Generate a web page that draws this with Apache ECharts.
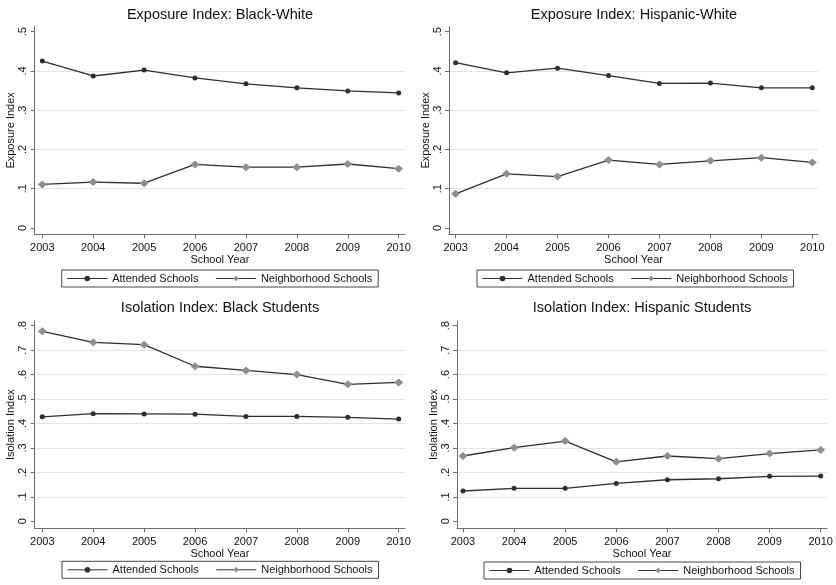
<!DOCTYPE html>
<html>
<head>
<meta charset="utf-8">
<script src="https://cdn.jsdelivr.net/npm/echarts@6/dist/echarts.min.js"></script>
<style>
html,body{margin:0;padding:0;background:#fff;}
#chart{width:836px;height:585px;}
</style>
</head>
<body>
<div id="chart"></div>
<script>
// ---- data ----
const years = [2003, 2004, 2005, 2006, 2007, 2008, 2009, 2010];
const seriesNames = ['Attended Schools', 'Neighborhood Schools'];
const panelTitles = ['Exposure Index: Black-White', 'Exposure Index: Hispanic-White',
                     'Isolation Index: Black Students', 'Isolation Index: Hispanic Students'];
const yAxisNames = ['Exposure Index', 'Exposure Index', 'Isolation Index', 'Isolation Index'];
const xAxisName = 'School Year';

const bwAttended       = [0.425, 0.387, 0.402, 0.382, 0.367, 0.357, 0.349, 0.344];
const bwNeighborhood   = [0.111, 0.117, 0.114, 0.162, 0.155, 0.155, 0.163, 0.151];
const hwAttended       = [0.421, 0.395, 0.407, 0.388, 0.368, 0.369, 0.357, 0.357];
const hwNeighborhood   = [0.087, 0.138, 0.131, 0.173, 0.162, 0.171, 0.179, 0.167];
const bIsoAttended     = [0.427, 0.440, 0.439, 0.438, 0.429, 0.429, 0.425, 0.418];
const bIsoNeighborhood = [0.777, 0.732, 0.722, 0.634, 0.617, 0.600, 0.560, 0.568];
const hIsoAttended     = [0.124, 0.135, 0.135, 0.155, 0.170, 0.174, 0.184, 0.185];
const hIsoNeighborhood = [0.267, 0.301, 0.328, 0.243, 0.267, 0.256, 0.277, 0.292];

const exposureTicks  = [0, 0.1, 0.2, 0.3, 0.4, 0.5];
const isolationTicks = [0, 0.1, 0.2, 0.3, 0.4, 0.5, 0.6, 0.7, 0.8];

// ---- layout (pixels / axis extents) ----
const FONT = '"Liberation Sans", Arial, sans-serif';
const panels = [
  {grid:{left:34.7, top:26.5, width:370.3, height:207.8}, x:[2002.851, 2010.124], y:[-0.016, 0.513], ticks: exposureTicks,
   title:[220, 7], legend:[61.7, 270], att: bwAttended, nb: bwNeighborhood},
  {grid:{left:449, top:26.5, width:369, height:207.8}, x:[2002.870, 2010.112], y:[-0.016, 0.513], ticks: exposureTicks,
   title:[634, 7], legend:[477, 270], att: hwAttended, nb: hwNeighborhood},
  {grid:{left:34.7, top:321, width:370.3, height:207.3}, x:[2002.851, 2010.124], y:[-0.0286, 0.819], ticks: isolationTicks,
   title:[220, 300], legend:[62, 561.3], att: bIsoAttended, nb: bIsoNeighborhood},
  {grid:{left:457, top:321, width:370, height:207.3}, x:[2002.883, 2010.123], y:[-0.0286, 0.819], ticks: isolationTicks,
   title:[642, 300], legend:[484, 562], att: hIsoAttended, nb: hIsoNeighborhood}
];

const axisGray = '#6e6e6e';
const lineDark = '#2e2e2e';
const diamondGray = '#8e8e8e';

function fmtY(v) {
  if (Math.abs(v) < 1e-9) return '0';
  return String(+(+v).toFixed(1)).replace(/^0/, '');
}

const option = {
  animation: false,
  backgroundColor: '#fff',
  textStyle: {fontFamily: FONT},
  title: [], legend: [], grid: [], xAxis: [], yAxis: [], series: []
};

panels.forEach((p, i) => {
  option.title.push({
    text: panelTitles[i], left: p.title[0], top: p.title[1], padding: 0,
    textAlign: 'center',
    textStyle: {fontFamily: FONT, fontSize: 14.5, fontWeight: 'normal', color: '#111'}
  });
  option.grid.push(Object.assign({containLabel: false}, p.grid));
  option.xAxis.push({
    type: 'value', gridIndex: i, min: p.x[0], max: p.x[1],
    name: xAxisName, nameLocation: 'middle', nameGap: 17,
    nameTextStyle: {fontFamily: FONT, fontSize: 11, color: '#111'},
    axisLine: {show: true, onZero: false, lineStyle: {color: axisGray, width: 1}},
    axisTick: {show: true, length: 4, customValues: years, lineStyle: {color: axisGray}},
    axisLabel: {customValues: years, margin: 8, fontFamily: FONT, fontSize: 11, color: '#111',
                formatter: v => String(Math.round(v))},
    splitLine: {show: false}
  });
  option.yAxis.push({
    type: 'value', gridIndex: i, min: p.y[0], max: p.y[1],
    name: yAxisNames[i], nameLocation: 'middle', nameGap: 16, nameRotate: 90,
    nameTextStyle: {fontFamily: FONT, fontSize: 11, color: '#111'},
    axisLine: {show: true, onZero: false, lineStyle: {color: axisGray, width: 1}},
    axisTick: {show: true, length: 4, customValues: p.ticks, lineStyle: {color: axisGray}},
    axisLabel: {customValues: p.ticks, rotate: 90, margin: 6, fontFamily: FONT, fontSize: 11, color: '#111',
                formatter: fmtY},
    splitLine: {show: true, showMinLine: false, showMaxLine: false,
                lineStyle: {color: '#e4e4e4', width: 1}}
  });
  option.legend.push({
    data: seriesNames, left: p.legend[0], top: p.legend[1],
    orient: 'horizontal', padding: [3, 6, 3, 5], itemGap: 17, itemWidth: 40, itemHeight: 7,
    borderColor: '#444', borderWidth: 1, selectedMode: false,
    lineStyle: {width: 1},
    textStyle: {fontFamily: FONT, fontSize: 11, color: '#111'}
  });
  option.series.push({
    name: seriesNames[0], type: 'line', xAxisIndex: i, yAxisIndex: i,
    data: years.map((y, k) => [y, p.att[k]]),
    symbol: 'circle', symbolSize: 5,
    itemStyle: {color: lineDark},
    lineStyle: {color: lineDark, width: 1.3},
    z: 3
  });
  option.series.push({
    name: seriesNames[1], type: 'line', xAxisIndex: i, yAxisIndex: i,
    data: years.map((y, k) => [y, p.nb[k]]),
    symbol: 'diamond', symbolSize: [9, 8],
    itemStyle: {color: diamondGray},
    lineStyle: {color: lineDark, width: 1.3},
    z: 2
  });
});

const chart = echarts.init(document.getElementById('chart'), null, {renderer: 'canvas'});
chart.setOption(option);
</script>
</body>
</html>
